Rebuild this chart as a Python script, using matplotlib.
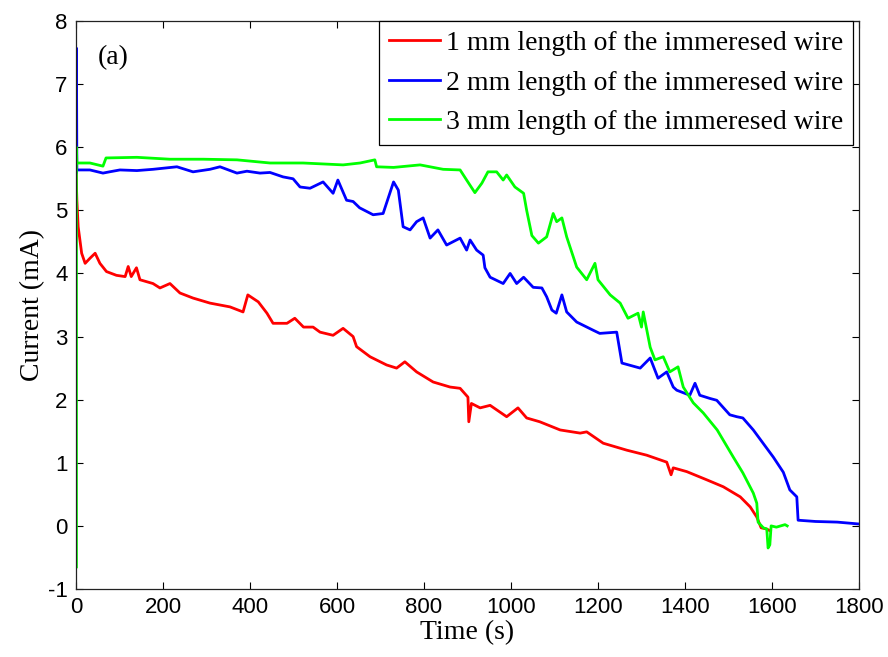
import matplotlib
matplotlib.use('Agg')
import matplotlib.pyplot as plt

plt.rcParams['axes.unicode_minus'] = False

# data (time in s, current in mA)
t_red = [0, 2, 5, 13, 21, 32, 44, 55, 70, 93, 113, 120, 127, 139, 147, 177, 193, 216,
         239, 269, 308, 354, 384, 395, 419, 439, 453, 485, 503, 523, 545, 561, 591, 614,
         637, 645, 676, 714, 737, 756, 783, 821, 860, 883, 901, 903, 909, 929, 952, 990,
         1016, 1036, 1066, 1113, 1159, 1174, 1212, 1266, 1312, 1358, 1368, 1373, 1404,
         1450, 1488, 1527, 1550, 1565, 1575, 1588, 1596]
i_red = [5.65, 5.16, 4.74, 4.32, 4.16, 4.24, 4.32, 4.16, 4.03, 3.97, 3.95, 4.11, 3.95,
         4.09, 3.90, 3.84, 3.77, 3.84, 3.69, 3.61, 3.53, 3.47, 3.39, 3.66, 3.55, 3.37,
         3.21, 3.21, 3.29, 3.15, 3.15, 3.07, 3.02, 3.13, 3.00, 2.84, 2.68, 2.55, 2.50,
         2.60, 2.44, 2.28, 2.20, 2.18, 2.04, 1.65, 1.94, 1.87, 1.91, 1.73, 1.87, 1.71,
         1.65, 1.52, 1.47, 1.49, 1.31, 1.20, 1.12, 1.01, 0.81, 0.92, 0.86, 0.73, 0.62,
         0.46, 0.30, 0.14, -0.03, -0.05, -0.08]

t_blue = [1, 1, 2, 32, 62, 77, 101, 140, 177, 232, 269, 308, 331, 370, 393, 423, 446,
          476, 499, 515, 538, 568, 591, 602, 622, 637, 652, 683, 706, 730, 741, 752, 768,
          783, 798, 814, 832, 852, 883, 898, 906, 921, 936, 940, 952, 982, 998, 1013,
          1029, 1051, 1071, 1082, 1094, 1104, 1117, 1128, 1151, 1189, 1204, 1243, 1255,
          1297, 1320, 1338, 1358, 1373, 1381, 1411, 1423, 1434, 1457, 1473, 1503, 1519,
          1533, 1557, 1588, 1603, 1626, 1641, 1657, 1660, 1700, 1750, 1800]
i_blue = [5.60, 7.57, 5.64, 5.64, 5.59, 5.61, 5.64, 5.63, 5.65, 5.69, 5.61, 5.65, 5.69,
          5.59, 5.62, 5.59, 5.60, 5.53, 5.50, 5.37, 5.35, 5.45, 5.27, 5.48, 5.16, 5.14,
          5.04, 4.93, 4.95, 5.45, 5.32, 4.74, 4.69, 4.82, 4.88, 4.56, 4.69, 4.45, 4.56,
          4.37, 4.53, 4.37, 4.29, 4.09, 3.94, 3.84, 4.00, 3.84, 3.94, 3.78, 3.77, 3.63,
          3.42, 3.37, 3.66, 3.39, 3.23, 3.10, 3.05, 3.07, 2.58, 2.50, 2.66, 2.34, 2.44,
          2.20, 2.15, 2.07, 2.26, 2.07, 2.02, 1.99, 1.76, 1.73, 1.71, 1.52, 1.23, 1.09,
          0.85, 0.57, 0.46, 0.09, 0.07, 0.06, 0.03]

t_green = [1, 1, 2, 32, 62, 69, 140, 216, 293, 370, 446, 522, 614, 653, 687, 691, 730,
           791, 844, 883, 898, 917, 933, 947, 967, 982, 990, 1009, 1029, 1036, 1048, 1063,
           1082, 1097, 1105, 1117, 1128, 1151, 1174, 1193, 1200, 1228, 1251, 1269, 1292,
           1300, 1304, 1320, 1331, 1350, 1365, 1384, 1396, 1419, 1442, 1474, 1511, 1533,
           1557, 1565, 1568, 1580, 1588, 1591, 1595, 1598, 1610, 1630, 1635]
i_green = [-0.65, 6.00, 5.75, 5.75, 5.70, 5.83, 5.84, 5.81, 5.81, 5.80, 5.75, 5.75, 5.72,
           5.75, 5.80, 5.69, 5.68, 5.72, 5.65, 5.64, 5.48, 5.28, 5.43, 5.61, 5.61, 5.48,
           5.56, 5.37, 5.27, 5.00, 4.60, 4.48, 4.58, 4.95, 4.82, 4.88, 4.58, 4.10, 3.90,
           4.16, 3.90, 3.66, 3.53, 3.29, 3.37, 3.15, 3.39, 2.83, 2.63, 2.68, 2.44, 2.52,
           2.20, 1.95, 1.79, 1.52, 1.09, 0.84, 0.52, 0.36, 0.06, -0.03, -0.05, -0.35,
           -0.30, 0.00, -0.02, 0.02, 0.00]

labels = ['1 mm length of the immeresed wire',
          '2 mm length of the immeresed wire',
          '3 mm length of the immeresed wire']

serif = ['Liberation Serif', 'DejaVu Serif']
sans = ['Liberation Sans', 'DejaVu Sans']

fig = plt.figure(figsize=(8.88, 6.57), dpi=100)
ax = fig.add_axes([76/888, 1 - 589/657, 783/888, 568/657])

ax.plot(t_red, i_red, color='#ff0000', lw=2, label=labels[0])
ax.plot(t_blue, i_blue, color='#0000ff', lw=2, label=labels[1])
ax.plot(t_green, i_green, color='#00ff00', lw=2, label=labels[2])

ax.set_xlim(0, 1800)
ax.set_ylim(-1, 8)
ax.set_xticks(range(0, 1801, 200))
ax.set_yticks(range(-1, 9))
ax.tick_params(direction='in', top=True, right=True, length=5, width=0.8,
               labelsize=16, pad=6)
for lab in ax.get_xticklabels() + ax.get_yticklabels():
    lab.set_family(sans)
for sp in ax.spines.values():
    sp.set_linewidth(0.9)
    sp.set_color('#222222')

ax.set_xlabel('Time (s)', family=serif, fontsize=20, labelpad=1)
ax.set_ylabel('Current (mA)', family=serif, fontsize=20, labelpad=2)
ax.text(0.028, 0.935, '(a)', transform=ax.transAxes, family=serif, fontsize=20,
        va='center', ha='left')

leg = ax.legend(loc='upper right', bbox_to_anchor=(1 - 6/783, 1.0), borderaxespad=0,
                prop={'family': serif, 'size': 20}, handlelength=1.85,
                handletextpad=0.2, labelspacing=0.5, borderpad=0.35,
                fancybox=False, framealpha=1, edgecolor='k')
leg.get_frame().set_linewidth(0.9)
for ln in leg.get_lines():
    ln.set_linewidth(2)

fig.savefig('out.png', dpi=100)
